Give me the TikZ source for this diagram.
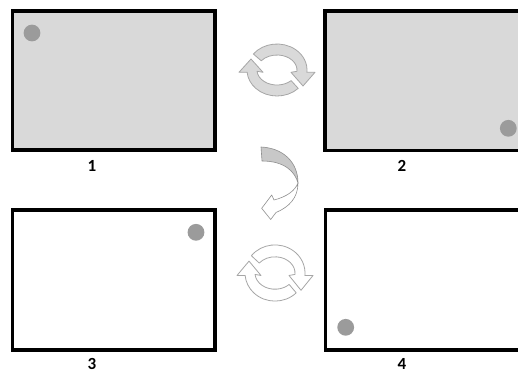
\documentclass[tikz,border=0pt]{standalone}
\usepackage{fontspec}
\setmainfont{Carlito}

\definecolor{panelgray}{HTML}{D9D9D9}
\definecolor{dotgray}{HTML}{9B9B9B}
\definecolor{iconedge}{HTML}{A6A6A6}
\definecolor{iconfill}{HTML}{D9D9D9}
\definecolor{bandgray}{HTML}{C8C8C8}
\definecolor{bandedge}{HTML}{8F8F8F}

\tikzset{
  frame/.style={line width=3.4pt, draw=black},
  dot/.style={fill=dotgray, draw=none},
  caption/.style={font=\fontsize{17}{20}\selectfont\bfseries, inner sep=0pt},
  iconline/.style={draw=iconedge, line width=0.8pt, line join=round},
  bandline/.style={draw=bandedge, line width=0.6pt, line join=round},
  % two-arrow "cycle" symbol, drawn around the origin
  cyclearrows/.pic={
    \begin{scope}[yscale=-1]
      \path[pic actions] (142:30 and 26)
        arc[start angle=142, end angle=-5, x radius=30, y radius=26]
        -- (38,-2.3) -- (26,-16) -- (14,-2.3) -- (-5:20 and 15)
        arc[start angle=-5, end angle=142, x radius=20, y radius=15] -- cycle;
      \path[pic actions] (-45:30 and 26)
        arc[start angle=-45, end angle=-175, x radius=30, y radius=26]
        -- (-38,-2.3) -- (-26,11) -- (-14,-2.3) -- (-175:20 and 15)
        arc[start angle=-175, end angle=-45, x radius=20, y radius=15] -- cycle;
    \end{scope}
  }
}

\begin{document}
\begin{tikzpicture}[x=1pt, y=-1pt]
  \useasboundingbox (0,0) rectangle (518,372);
  \clip (0,0) rectangle (518,372);
  \fill[white] (0,0) rectangle (518,372);

  % the four panels
  \filldraw[frame, fill=panelgray] (12.3,11) rectangle (215,150);
  \filldraw[frame, fill=panelgray] (325,11) rectangle (540,150.5);
  \draw[frame] (12.3,210) rectangle (215,350);
  \draw[frame] (325.5,210) rectangle (540,350);

  % ball positions
  \fill[dot] (32,33) circle[radius=8.4];
  \fill[dot] (508.3,128.3) circle[radius=8.4];
  \fill[dot] (196,232.3) circle[radius=8.4];
  \fill[dot] (345.7,327.3) circle[radius=8.4];

  % panel numbers
  \node[caption] (n1) at (92,165.5) {1};
  \node[caption] (n2) at (402,165.5) {2};
  \node[caption] (n3) at (92,363.5) {3};
  \node[caption] (n4) at (402,363.5) {4};

  % cycle symbols between the panels
  \pic[iconline, fill=iconfill] (cycletop) at (277,70) {cyclearrows};
  \pic[iconline, fill=white, yscale=1.08] (cyclebottom) at (275,273) {cyclearrows};

  % twisted curved arrow from the top row down to the bottom row
  \filldraw[bandline, fill=bandgray] (261,147)
    .. controls (283,148) and (298,162) .. (298,183)
    .. controls (295,172) and (285,161) .. (262,161) -- cycle;
  \filldraw[bandline, fill=white] (298,183)
    .. controls (298,198) and (289,207) .. (276,212.5)
    -- (270.7,219.5) -- (261.7,208.3) -- (271.7,195) -- (274,200)
    .. controls (286,197) and (295,191) .. (298,183) -- cycle;
\end{tikzpicture}
\end{document}
